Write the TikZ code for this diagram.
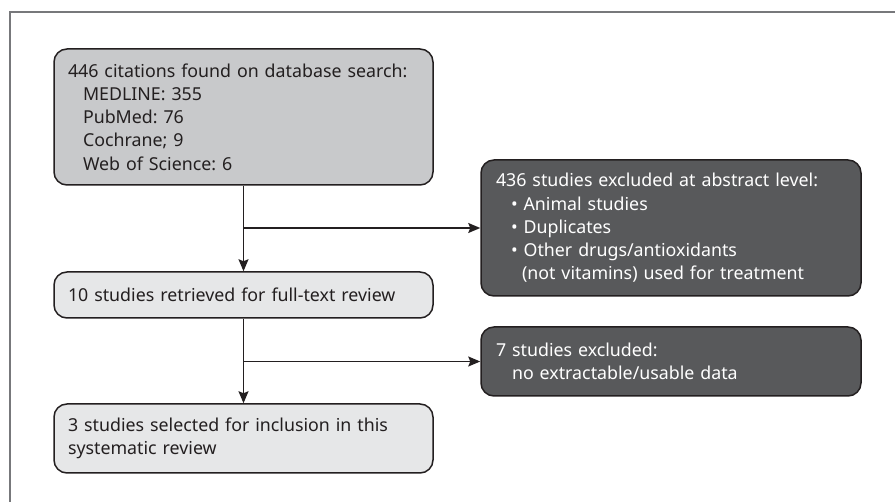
\documentclass[tikz,border=0pt]{standalone}
\usepackage{fontspec}
\setmainfont{Noto Sans}
\usetikzlibrary{arrows.meta}
\definecolor{framegray}{HTML}{77787B}
\definecolor{midbox}{HTML}{C8C9CB}
\definecolor{lightbox}{HTML}{E6E7E8}
\definecolor{darkbox}{HTML}{58595B}
\definecolor{edgecol}{HTML}{231F20}
\definecolor{darktext}{HTML}{231F20}
\frenchspacing
\tikzset{
  boxbase/.style={draw=edgecol, line width=1.5pt, rounded corners=13pt, align=left,
    inner xsep=14pt, inner ysep=0pt, anchor=center,
    font=\fontsize{17.8}{23.3}\selectfont},
  midstyle/.style={boxbase, fill=midbox, text=darktext},
  lightstyle/.style={boxbase, fill=lightbox, text=darktext},
  darkstyle/.style={boxbase, fill=darkbox, text=white, inner xsep=15pt},
  conn/.style={draw=edgecol, line width=1.5pt},
  arr/.style={conn, -{Stealth[length=12pt,width=10pt,inset=2pt]}},
}
\newcommand{\ind}{\hspace*{15pt}}
\begin{document}
\begin{tikzpicture}[x=1pt,y=-1pt]
\useasboundingbox (0,0) rectangle (895,502);
\draw[framegray, line width=1.3pt] (10,510) -- (10,12) -- (900,12);

\node[midstyle, text width=351pt, minimum height=136pt] (b1) at (243.5,117)
 {\mbox{446 citations found on database search:}\\
  \ind MEDLINE: 355\\
  \ind PubMed: 76\\
  \ind Cochrane; 9\\
  \ind Web of Science: 6};

\node[darkstyle, text width=350pt, minimum height=136pt] (b2) at (671,228)
 {\mbox{436 studies excluded at abstract level:}\\
  \ind• Animal studies\\
  \ind• Duplicates\\
  \ind• Other drugs/antioxidants\\
  \hspace*{26pt}\mbox{(not vitamins) used for treatment}};

\node[lightstyle, text width=351pt, minimum height=46pt] (b3) at (243.5,295)
 {\mbox{10 studies retrieved for full-text review}};

\node[darkstyle, text width=350pt, minimum height=69pt] (b4) at (671,361.5)
 {7 studies excluded:\\
  \hspace*{16pt}\mbox{no extractable/usable data}};

\node[lightstyle, text width=351pt, minimum height=69pt] (b5) at (243.5,438.5)
 {\mbox{3 studies selected for inclusion in this}\\
  systematic review};

\coordinate (j1) at (b1.south |- b2.west);
\coordinate (j2) at (b3.south |- b4.west);

\draw[arr] (b1.south) -- (b3.north);
\draw[arr] (j1) -- (b2.west);
\draw[arr] (b3.south) -- (b5.north);
\draw[arr] (j2) -- (b4.west);
\end{tikzpicture}
\end{document}
